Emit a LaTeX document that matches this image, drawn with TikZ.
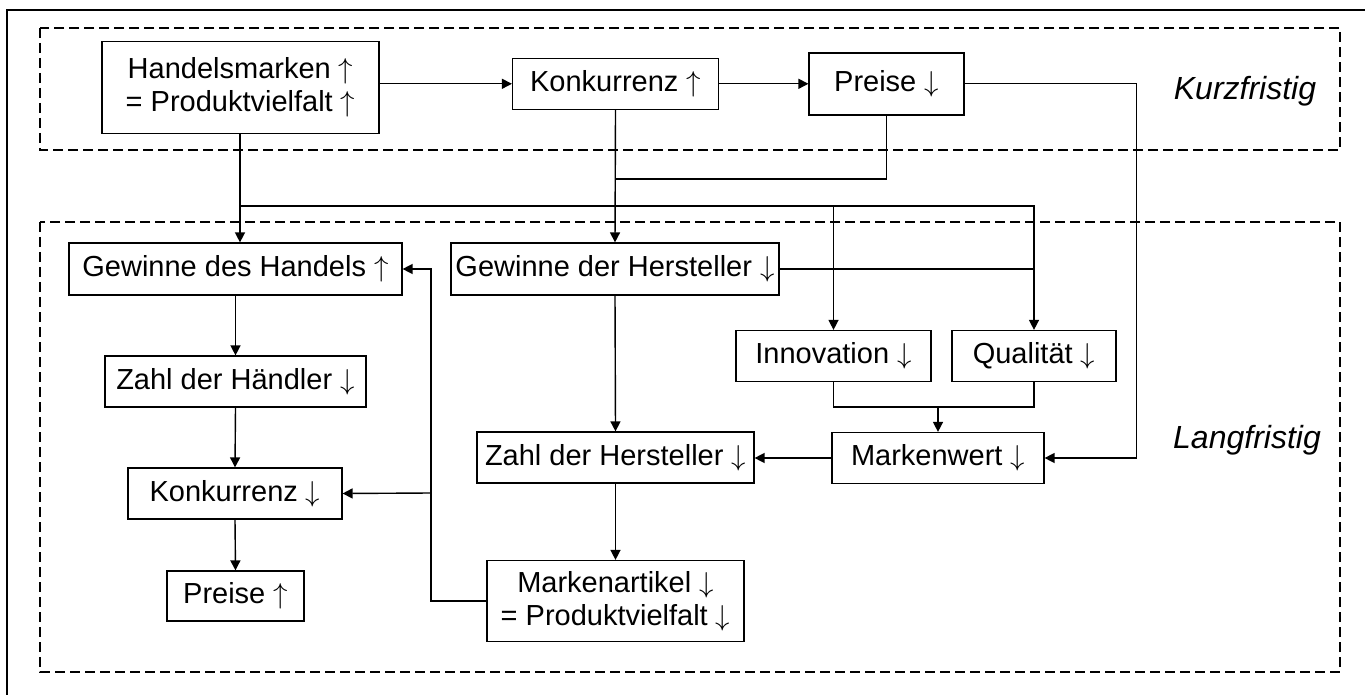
\documentclass[tikz,border=0pt]{standalone}
\usepackage{fontspec}
\setmainfont{Liberation Sans}
\usetikzlibrary{arrows.meta}
\newcommand{\rauf}{$\uparrow$}
\newcommand{\runter}{$\downarrow$}

\begin{document}
\begin{tikzpicture}[x=0.5pt,y=-0.5pt,
    box/.style={draw,line width=0.6pt,inner xsep=0pt,inner ysep=0pt,align=center,font=\fontsize{14.5}{16.5}\selectfont},
    arr/.style={-{Triangle[length=5pt,width=5pt]},line width=0.7pt},
    link/.style={line width=0.7pt},
    zone/.style={draw,dash pattern=on 5pt off 2.5pt,line width=0.6pt},
    zonelabel/.style={font=\fontsize{16}{19}\selectfont\itshape}]
    \useasboundingbox (0,0) rectangle (1365,695);
    % outer frame and the two time zones
    \draw[line width=0.6pt] (7,695) -- (7,10) -- (1365,10);
    \draw[zone] (40,28) rectangle (1340,150);
    \draw[zone] (40,222) rectangle (1340,672);
    \node[zonelabel] (kurz) at (1245,91) {Kurzfristig};
    \node[zonelabel] (lang) at (1247,440) {Langfristig};

    % short term row
    \node[box,minimum width=138.5pt,minimum height=45.75pt] (hm) at (240.5,87.5) {Handelsmarken \rauf\\= Produktvielfalt \rauf};
    \node[box,minimum width=103pt,minimum height=25.5pt] (konk1) at (615.5,83.8) {Konkurrenz \rauf};
    \node[box,minimum width=77.5pt,minimum height=31pt] (preise1) at (886.5,84) {Preise \runter};

    % long term, trade side (left column)
    \node[box,minimum width=166.5pt,minimum height=26pt] (gdhan) at (235.5,269) {Gewinne des Handels \rauf};
    \node[box,minimum width=130.5pt,minimum height=25.5pt] (zdhae) at (235.5,381.5) {Zahl der Händler \runter};
    \node[box,minimum width=107pt,minimum height=25.5pt] (konk2) at (235,493.5) {Konkurrenz \runter};
    \node[box,minimum width=68.5pt,minimum height=25pt] (preise2) at (235.5,596) {Preise \rauf};

    % long term, producer side
    \node[box,minimum width=164pt,minimum height=26pt] (gdher) at (615,269) {Gewinne der Hersteller \runter};
    \node[box,minimum width=97.5pt,minimum height=25.5pt] (innov) at (833.5,356) {Innovation \runter};
    \node[box,minimum width=82pt,minimum height=25.5pt] (qual) at (1034,356) {Qualität \runter};
    \node[box,minimum width=106pt,minimum height=25.5pt] (mw) at (938,458) {Markenwert \runter};
    \node[box,minimum width=138.5pt,minimum height=25.5pt] (zdher) at (615.5,457.5) {Zahl der Hersteller \runter};
    \node[box,minimum width=128.5pt,minimum height=40.5pt] (mart) at (615.5,601) {Markenartikel \runter\\= Produktvielfalt \runter};

    % branch points
    \coordinate (hmsplit) at (240,206);
    \coordinate (pjoin) at (615,179);
    \coordinate (mwin) at (938,407);
    \coordinate (martsplit) at (431,493);

    % short term arrows
    \draw[arr] (hm.east |- konk1.west) -- (konk1.west);
    \draw[arr] (konk1.east) -- (preise1.west |- konk1.east);
    \draw[arr] (preise1.east |- konk1.east) -- ++(172,0) |- (mw.east);
    \draw[link] (preise1.south) |- (pjoin);
    \draw[arr] (konk1.south) -- (gdher.north);

    % from the trade brands down
    \draw[arr] (hm.south -| hmsplit) -- (hmsplit |- gdhan.north);
    \draw[arr] (hmsplit) -| (innov.north);
    \draw[arr] (hmsplit) -| (qual.north);
    \draw[link] (gdher.east) -- (gdher.east -| qual.north);

    % quality and innovation into brand value
    \draw[link] (innov.south) |- (mwin) -| (qual.south);
    \draw[arr] (mwin) -- (mw.north);
    \draw[arr] (mw.west) -- (zdher.east |- mw.west);
    \draw[arr] (gdher.south) -- (zdher.north);
    \draw[arr] (zdher.south) -- (mart.north);

    % feedback to the trade side
    \draw[arr] (mart.west) -- (martsplit |- mart.west) |- (gdhan.east);
    \draw[arr] (martsplit) -- (konk2.east);
    \draw[arr] (gdhan.south) -- (zdhae.north);
    \draw[arr] (zdhae.south) -- (konk2.north);
    \draw[arr] (konk2.south) -- (preise2.north);
\end{tikzpicture}
\end{document}
